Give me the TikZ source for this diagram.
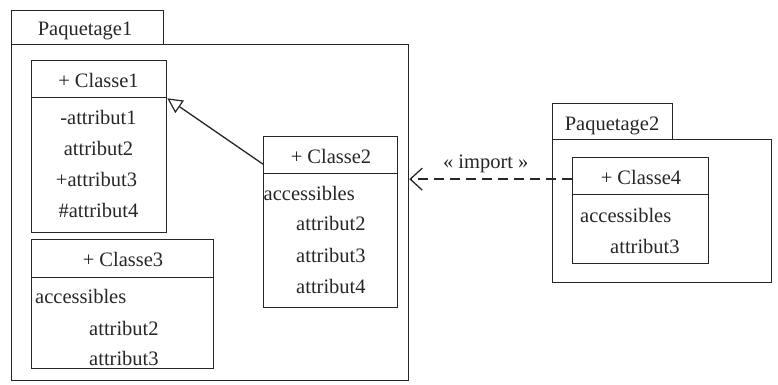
\documentclass[tikz,border=0pt]{standalone}
\usepackage{fontspec}
\setmainfont{Liberation Serif}
\newfontfamily\umlfont{Liberation Serif}
\usetikzlibrary{arrows.meta}
\tikzset{
  ink/.style={black!85, line width=1.3pt},
  box/.style={draw, ink, rectangle, inner sep=0pt, anchor=north west},
  lbl/.style={inner sep=0pt, anchor=base, text=black!85},
  lbll/.style={inner sep=0pt, anchor=base west, text=black!85},
}
\begin{document}
\begin{tikzpicture}[x=1pt, y=-1pt, font=\umlfont\fontsize{20.5}{24}\selectfont]
\useasboundingbox (0,0) rectangle (778,384);

% Paquetage1
\node[box, minimum width=152pt, minimum height=34pt] (p1tab) at (11,10) {};
\node[box, minimum width=397pt, minimum height=336pt] (p1) at (11,44) {};
\node[lbl] (p1name) at (85,35) {Paquetage1};

% Classe1
\node[box, minimum width=135pt, minimum height=37pt] (c1h) at (31,60) {};
\node[box, minimum width=135pt, minimum height=135pt] (c1b) at (31,97) {};
\node[lbl] (c1n) at (98.5,87) {+ Classe1};
\node[lbl] (c1a1) at (98.5,124) {-attribut1};
\node[lbl] (c1a2) at (98.5,155) {attribut2};
\node[lbl] (c1a3) at (96.5,186) {+attribut3};
\node[lbl] (c1a4) at (98.5,217) {\#attribut4};

% Classe3
\node[box, minimum width=182pt, minimum height=38pt] (c3h) at (31,239) {};
\node[box, minimum width=182pt, minimum height=91pt] (c3b) at (31,277) {};
\node[lbl] (c3n) at (123,266) {+ Classe3};
\node[lbll] (c3acc) at (35,303) {accessibles};
\node[lbll] (c3a2) at (89,335) {attribut2};
\node[lbll] (c3a3) at (89,365) {attribut3};

% Classe2
\node[box, minimum width=134pt, minimum height=37pt] (c2h) at (263,136) {};
\node[box, minimum width=134pt, minimum height=134pt] (c2b) at (263,173) {};
\node[lbl] (c2n) at (331,163) {+ Classe2};
\node[lbll] (c2acc) at (263.5,200) {accessibles};
\node[lbll] (c2a2) at (296,230) {attribut2};
\node[lbll] (c2a3) at (296,262) {attribut3};
\node[lbll] (c2a4) at (296,293) {attribut4};

% Paquetage2
\node[box, minimum width=120pt, minimum height=36pt] (p2tab) at (552,103) {};
\node[box, minimum width=219pt, minimum height=143pt] (p2) at (552,139) {};
\node[lbl] (p2name) at (612,130) {Paquetage2};

% Classe4
\node[box, minimum width=136pt, minimum height=37pt] (c4h) at (572,157) {};
\node[box, minimum width=136pt, minimum height=69pt] (c4b) at (572,194) {};
\node[lbl] (c4n) at (641,184) {+ Classe4};
\node[lbll] (c4acc) at (580,222) {accessibles};
\node[lbll] (c4a3) at (610,253) {attribut3};

% generalisation Classe2 -> Classe1
\draw[ink, -{Triangle[open, length=15pt, width=15pt, line width=1.2pt]}]
  ([yshift=-9pt]c2h.west) -- (c1h.south east);

% import dependency Classe4 -> Paquetage1
\draw[ink, line width=1.8pt, dash pattern=on 10pt off 6pt,
      -{Straight Barb[length=12pt, width=22pt, line width=1.3pt]}]
  ([yshift=-3pt]c4h.west) -- ([yshift=-3pt]c4h.west -| p1.east)
  node[pos=0.53, above=5pt, lbl, anchor=south] (imp) {« import »};
\end{tikzpicture}
\end{document}
